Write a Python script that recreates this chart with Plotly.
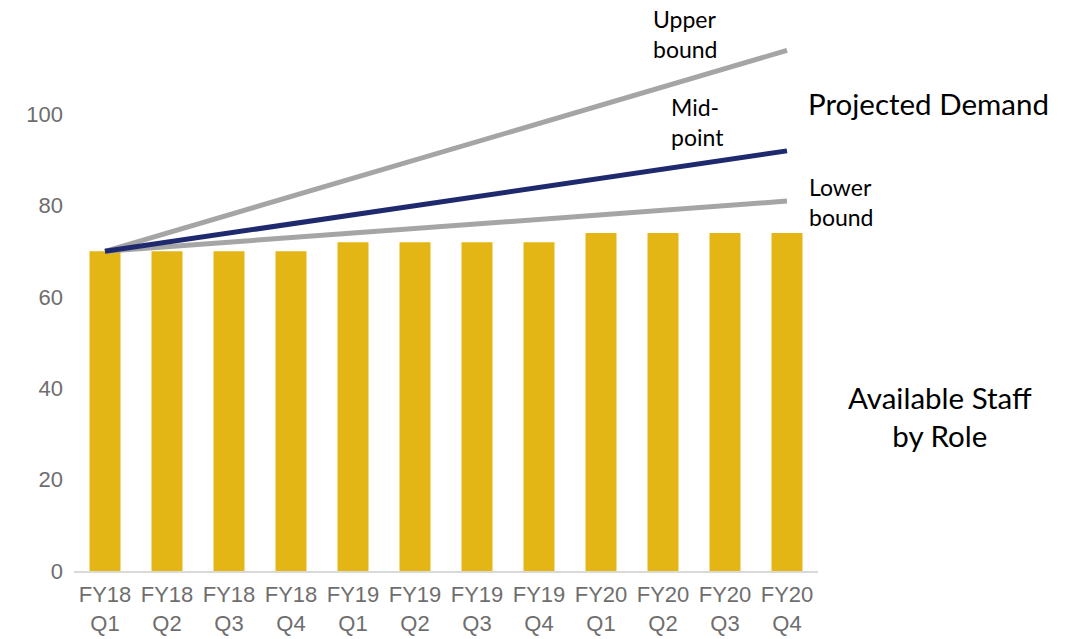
import plotly.graph_objects as go

categories = ["FY18<br>Q1", "FY18<br>Q2", "FY18<br>Q3", "FY18<br>Q4",
              "FY19<br>Q1", "FY19<br>Q2", "FY19<br>Q3", "FY19<br>Q4",
              "FY20<br>Q1", "FY20<br>Q2", "FY20<br>Q3", "FY20<br>Q4"]
available_staff = [70, 70, 70, 70, 72, 72, 72, 72, 74, 74, 74, 74]
line_x = [categories[0], categories[-1]]
upper_bound = [70, 114]
mid_point = [70, 92]
lower_bound = [70, 81]
y_ticks = [0, 20, 40, 60, 80, 100]

W, H = 1076, 639
L, R, T, B = 74, 258, 23, 68
pw, ph = W - L - R, H - T - B


def px(x):
    return (x - L) / pw


def py(y):
    return (H - B - y) / ph


fig = go.Figure()
fig.add_trace(go.Bar(x=categories, y=available_staff, marker_color="#E3B515",
                     marker_line_width=0, showlegend=False))
fig.add_trace(go.Scatter(x=line_x, y=upper_bound, mode="lines",
                         line=dict(color="#A5A5A5", width=5), showlegend=False))
fig.add_trace(go.Scatter(x=line_x, y=lower_bound, mode="lines",
                         line=dict(color="#A5A5A5", width=5), showlegend=False))
fig.add_trace(go.Scatter(x=line_x, y=mid_point, mode="lines",
                         line=dict(color="#1F2A6E", width=5), showlegend=False))

ann_font = "Lato, Calibri, Carlito, sans-serif"
annotations = [
    dict(text="Upper<br>bound", x=px(651), y=py(34), xanchor="left", yanchor="middle",
         align="left", font=dict(size=23, color="#000000", family=ann_font)),
    dict(text="Mid-<br>point", x=px(669), y=py(122), xanchor="left", yanchor="middle",
         align="left", font=dict(size=23, color="#000000", family=ann_font)),
    dict(text="Lower<br>bound", x=px(807), y=py(202), xanchor="left", yanchor="middle",
         align="left", font=dict(size=23, color="#000000", family=ann_font)),
    dict(text="Projected Demand", x=px(928), y=py(103), xanchor="center", yanchor="middle",
         align="center", font=dict(size=29.5, color="#000000", family=ann_font)),
    dict(text="Available Staff<br>by Role", x=px(940), y=py(416), xanchor="center",
         yanchor="middle", align="center",
         font=dict(size=29.5, color="#000000", family=ann_font)),
]
for a in annotations:
    a.update(xref="paper", yref="paper", showarrow=False)

tick_font = dict(family="Liberation Sans, Arial, sans-serif", size=22, color="#6E6E6E")

fig.update_layout(
    width=W, height=H,
    margin=dict(l=L, r=R, t=T, b=B),
    paper_bgcolor="white", plot_bgcolor="white",
    bargap=0.5,
    annotations=annotations,
    font=tick_font,
)
fig.update_xaxes(type="category", showline=True, linecolor="#D9D9D9", linewidth=2,
                 showgrid=False, ticks="", zeroline=False, ticklabelstandoff=3,
                 tickfont=tick_font, automargin=False)
fig.update_yaxes(range=[0, 120], tickvals=y_ticks, showgrid=False, showline=False,
                 zeroline=False, ticks="", ticklabelstandoff=10, tickfont=tick_font,
                 automargin=False)

fig.write_html("out.html")
